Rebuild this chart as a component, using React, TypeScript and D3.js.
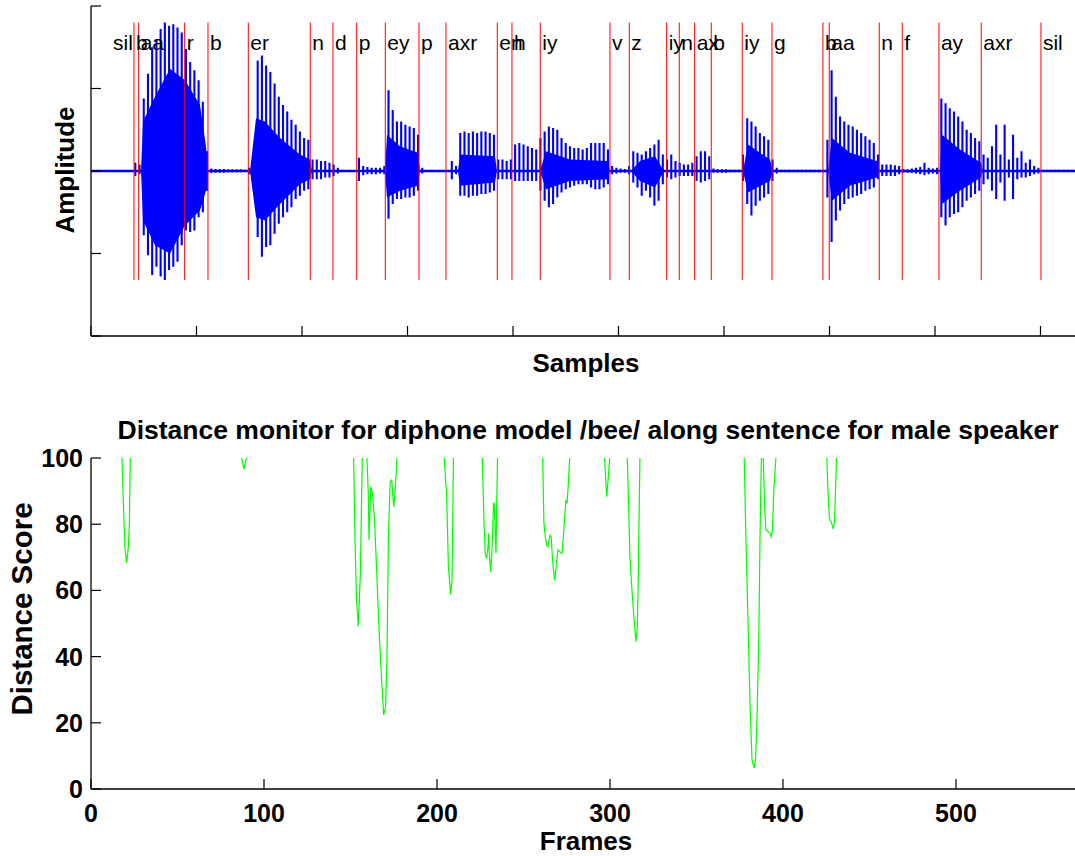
import React from "react";
import * as d3 from "d3";

const W = 1075;
const H = 856;

// ---------- Top plot: waveform (samples) ----------
const SAMPLE_MAX = 46635;
const SAMPLE_TICKS = [0, 5000, 10000, 15000, 20000, 25000, 30000, 35000, 40000, 45000];
const AMP_TICKS = [-1, -0.5, 0, 0.5, 1];
const BIN = 200; // samples per envelope bin

// peak (spike) envelope per bin
const peakHi = [
  0.005, 0.005, 0.005, 0.005, 0.005, 0.005, 0.005, 0.005, 0.005, 0.005, // 0
  0.05, 0.04, 0.44, 0.59, 0.75, 0.8, 0.86, 0.9, 0.88, 0.89, // 10
  0.87, 0.84, 0.74, 0.66, 0.61, 0.55, 0.42, 0.12, 0.015, 0.012, // 20
  0.012, 0.012, 0.01, 0.01, 0.01, 0.01, 0.008, 0.02, 0.07, 0.67, // 30
  0.7, 0.64, 0.6, 0.53, 0.45, 0.4, 0.36, 0.31, 0.28, 0.24, // 40
  0.2, 0.19, 0.07, 0.07, 0.06, 0.06, 0.05, 0.04, 0.02, 0.008, // 50
  0.005, 0.005, 0.005, 0.08, 0.03, 0.025, 0.02, 0.02, 0.02, 0.03, // 60
  0.49, 0.37, 0.3, 0.3, 0.28, 0.27, 0.26, 0.22, 0.02, 0.006, // 70
  0.006, 0.006, 0.006, 0.006, 0.006, 0.06, 0.03, 0.23, 0.24, 0.23, // 80
  0.24, 0.23, 0.24, 0.24, 0.23, 0.22, 0.07, 0.07, 0.06, 0.07, // 90
  0.16, 0.17, 0.16, 0.15, 0.14, 0.13, 0.2, 0.24, 0.27, 0.26, // 100
  0.25, 0.2, 0.17, 0.15, 0.14, 0.14, 0.13, 0.14, 0.17, 0.17, // 110
  0.17, 0.17, 0.13, 0.03, 0.02, 0.015, 0.012, 0.03, 0.12, 0.11, // 120
  0.1, 0.12, 0.14, 0.16, 0.19, 0.1, 0.07, 0.1, 0.06, 0.05, // 130
  0.04, 0.04, 0.05, 0.09, 0.12, 0.12, 0.09, 0.015, 0.01, 0.01, // 140
  0.01, 0.008, 0.008, 0.008, 0.1, 0.32, 0.3, 0.27, 0.23, 0.21, // 150
  0.19, 0.07, 0.02, 0.008, 0.008, 0.008, 0.008, 0.008, 0.008, 0.008, // 160
  0.008, 0.008, 0.008, 0.008, 0.19, 0.61, 0.45, 0.33, 0.3, 0.28, // 170
  0.27, 0.25, 0.23, 0.21, 0.19, 0.17, 0.1, 0.04, 0.04, 0.04, // 180
  0.035, 0.03, 0.012, 0.01, 0.015, 0.02, 0.025, 0.05, 0.02, 0.015, // 190
  0.02, 0.44, 0.41, 0.38, 0.36, 0.33, 0.3, 0.25, 0.23, 0.2, // 200
  0.18, 0.1, 0.08, 0.15, 0.28, 0.1, 0.28, 0.07, 0.22, 0.08, // 210
  0.12, 0.05, 0.07, 0.03, 0.02, 0.008, 0.008, 0.008, 0.008, 0.008, // 220
  0.008, 0.008, 0.008, // 230
];
const peakLo = [
  -0.005, -0.005, -0.005, -0.005, -0.005, -0.005, -0.005, -0.005, -0.005, -0.005, // 0
  -0.03, -0.02, -0.39, -0.51, -0.63, -0.58, -0.64, -0.66, -0.6, -0.58, // 10
  -0.55, -0.45, -0.36, -0.37, -0.36, -0.28, -0.25, -0.12, -0.012, -0.01, // 20
  -0.01, -0.01, -0.008, -0.008, -0.008, -0.008, -0.006, -0.02, -0.05, -0.4, // 30
  -0.52, -0.46, -0.45, -0.38, -0.32, -0.28, -0.25, -0.22, -0.17, -0.15, // 40
  -0.12, -0.11, -0.05, -0.05, -0.05, -0.04, -0.04, -0.03, -0.015, -0.006, // 50
  -0.005, -0.005, -0.005, -0.06, -0.025, -0.02, -0.02, -0.02, -0.015, -0.02, // 60
  -0.29, -0.2, -0.17, -0.17, -0.16, -0.16, -0.15, -0.12, -0.015, -0.005, // 70
  -0.005, -0.005, -0.005, -0.005, -0.005, -0.05, -0.02, -0.15, -0.15, -0.16, // 80
  -0.15, -0.15, -0.14, -0.14, -0.13, -0.12, -0.05, -0.05, -0.05, -0.05, // 90
  -0.06, -0.06, -0.06, -0.06, -0.06, -0.06, -0.12, -0.18, -0.22, -0.2, // 100
  -0.16, -0.13, -0.11, -0.1, -0.09, -0.08, -0.08, -0.08, -0.1, -0.11, // 110
  -0.11, -0.1, -0.08, -0.02, -0.015, -0.01, -0.01, -0.02, -0.07, -0.1, // 120
  -0.15, -0.12, -0.16, -0.21, -0.18, -0.08, -0.04, -0.05, -0.04, -0.03, // 130
  -0.03, -0.03, -0.03, -0.06, -0.07, -0.06, -0.05, -0.01, -0.01, -0.01, // 140
  -0.01, -0.008, -0.008, -0.008, -0.06, -0.2, -0.27, -0.21, -0.18, -0.16, // 150
  -0.14, -0.06, -0.015, -0.008, -0.008, -0.008, -0.008, -0.008, -0.008, -0.008, // 160
  -0.008, -0.008, -0.008, -0.008, -0.16, -0.43, -0.3, -0.24, -0.2, -0.17, // 170
  -0.16, -0.15, -0.14, -0.12, -0.11, -0.1, -0.05, -0.03, -0.03, -0.03, // 180
  -0.03, -0.02, -0.01, -0.01, -0.012, -0.015, -0.02, -0.025, -0.02, -0.015, // 190
  -0.02, -0.28, -0.33, -0.28, -0.26, -0.25, -0.22, -0.18, -0.16, -0.14, // 200
  -0.12, -0.08, -0.05, -0.12, -0.17, -0.07, -0.18, -0.04, -0.17, -0.05, // 210
  -0.04, -0.04, -0.03, -0.02, -0.015, -0.006, -0.006, -0.006, -0.006, -0.006, // 220
  -0.006, -0.006, -0.006, // 230
];

// dense core of the voiced segments (sample, upper, lower)
const coreSample = [
  2370, 2464, 3033, 3744, 4455, 5165, 5450, 5545,
  7535, 7820, 8246, 8957, 9905, 10378, 10473,
  13933, 14027, 14643, 15496, 15592,
  17392, 17487, 19146, 19240,
  21278, 21563, 22700, 24501, 24595,
  25591, 26017, 26728, 27155,
  30898, 31135, 32178, 32320,
  34926, 35116, 35969, 37248, 37390,
  40234, 40329, 41182, 42177, 42272,
];
const coreHi = [
  0, 0.3, 0.45, 0.62, 0.55, 0.4, 0.15, 0,
  0, 0.32, 0.3, 0.2, 0.1, 0.07, 0,
  0, 0.22, 0.15, 0.11, 0,
  0, 0.1, 0.09, 0,
  0, 0.12, 0.07, 0.06, 0,
  0, 0.06, 0.09, 0,
  0, 0.16, 0.07, 0,
  0, 0.2, 0.11, 0.06, 0,
  0, 0.22, 0.13, 0.05, 0,
];
const coreLo = [
  0, -0.3, -0.45, -0.5, -0.33, -0.24, -0.12, 0,
  0, -0.28, -0.3, -0.2, -0.08, -0.05, 0,
  0, -0.16, -0.12, -0.09, 0,
  0, -0.09, -0.07, 0,
  0, -0.11, -0.06, -0.05, 0,
  0, -0.06, -0.1, 0,
  0, -0.13, -0.06, 0,
  0, -0.18, -0.09, -0.04, 0,
  0, -0.2, -0.12, -0.04, 0,
];

// phoneme boundaries (samples) and labels
const boundaries = [
  2038, 2260, 4440, 5545, 7455, 10393, 11468, 12592, 13947, 15544,
  16823, 19255, 19951, 21293, 24595, 25510, 27282, 27880, 28609, 29396,
  30865, 32273, 34689, 34988, 37358, 38448, 40187, 42191, 45021,
];
const phonemes = [
  "sil", "b", "aa", "r", "b", "er", "n", "d", "p", "ey",
  "p", "axr", "en", "h", "iy", "v", "z", "iy", "n", "ax",
  "b", "iy", "g", "b", "aa", "n", "f", "ay", "axr", "sil",
];
const firstStart = 950;

// ---------- Bottom plot: distance score ----------
const FRAME_MAX = 568.8;
const FRAME_TICKS = [0, 100, 200, 300, 400, 500];
const SCORE_TICKS = [0, 20, 40, 60, 80, 100];

const dipFrames = [
  [17.9, 19.1, 19.7, 20.6, 21.6, 22.2, 22.7],
  [87.1, 88.4, 89.8],
  [151.8, 152.6, 153.5, 154.5, 155.7, 156.8],
  [159.5, 160.3, 160.7, 161.7, 162.7, 163.8, 165.2, 166.5, 168.0, 169.2, 170.3, 171.1, 171.9, 172.9, 173.8, 175.0, 175.7, 176.9],
  [204.2, 205.6, 206.6, 207.9, 208.7, 209.1, 209.5],
  [226.2, 227.2, 227.9, 228.7, 229.5, 229.9, 230.2, 231.0, 231.8, 232.7, 233.1, 234.1, 234.5, 235.0],
  [261.1, 261.8, 262.6, 263.4, 264.1, 265.3, 266.0, 266.8, 268.0, 269.1, 269.9, 271.0, 272.2, 272.9, 273.7, 274.5, 275.2, 275.8, 276.7],
  [296.9, 298.1, 299.2, 299.8],
  [310.0, 310.8, 311.5, 312.7, 313.8, 315.0, 315.8, 316.4, 316.9, 317.3],
  [377.6, 378.6, 379.8, 381.0, 382.1, 383.3, 384.1, 384.8, 386.0, 386.7, 387.5],
  [388.6, 389.4, 390.1, 391.3, 392.4, 393.2, 393.9, 394.7, 395.9],
  [425.3, 426.0, 426.8, 427.9, 429.1, 429.8, 430.4, 430.9],
];
const dipScores = [
  [100, 80.3, 72.2, 68.4, 73.2, 80.3, 100],
  [100, 96.6, 100],
  [100, 75.2, 57.1, 49.2, 65.1, 100],
  [100, 89.3, 75.2, 91.3, 89.3, 82.3, 65.1, 48.0, 32.9, 22.4, 24.9, 40.0, 75.2, 92.8, 93.3, 85.3, 89.3, 100],
  [100, 88.3, 67.1, 58.8, 63.1, 80.3, 100],
  [100, 80.3, 71.2, 69.7, 73.2, 77.2, 71.2, 65.6, 72.2, 86.3, 86.3, 71.2, 85.3, 100],
  [100, 80.3, 76.2, 73.7, 73.2, 76.7, 76.2, 69.1, 63.1, 68.1, 72.2, 71.7, 71.2, 75.2, 81.2, 87.3, 86.3, 91.3, 100],
  [100, 88.3, 95.3, 100],
  [100, 85.3, 70.2, 60.1, 52.0, 44.5, 49.0, 65.1, 85.3, 100],
  [100, 75.2, 50.0, 24.8, 8.7, 6.4, 8.7, 17.7, 45.0, 75.2, 100],
  [100, 85.3, 78.3, 77.8, 77.3, 76.2, 78.3, 90.3, 100],
  [100, 90.3, 81.7, 80.7, 78.5, 81.2, 90.3, 100],
];

const FONT = "'Liberation Sans', Arial, Helvetica, sans-serif";

export default function App() {
  // scales
  const xS = d3.scaleLinear().domain([0, SAMPLE_MAX]).range([91, 1075]);
  const yA = d3.scaleLinear().domain([-1, 1]).range([336, 6]);
  const xF = d3.scaleLinear().domain([0, FRAME_MAX]).range([91, 1075]);
  const yD = d3.scaleLinear().domain([0, 100]).range([789, 458]);

  // waveform spikes
  let spikes = "";
  peakHi.forEach((hi, i) => {
    const x = xS((i + 0.5) * BIN);
    spikes += `M${x.toFixed(2)},${yA(hi).toFixed(2)}V${yA(peakLo[i]).toFixed(2)}`;
  });
  const coreData = coreSample.map((s, i) => ({ s, hi: coreHi[i], lo: coreLo[i] }));
  const coreArea = d3
    .area<{ s: number; hi: number; lo: number }>()
    .x((d) => xS(d.s))
    .y0((d) => yA(d.lo))
    .y1((d) => yA(d.hi))(coreData);

  const sigMax = d3.max(peakHi) as number;
  const sigMin = d3.min(peakLo) as number;
  const starts = [firstStart, ...boundaries];

  const line = d3
    .line<[number, number]>()
    .x((d) => xF(d[0]))
    .y((d) => yD(d[1]));

  const axisColor = "#000";
  const tickLen = 10;

  return (
    <svg
      width={W}
      height={H}
      style={{ position: "absolute", left: 0, top: 0, background: "#fff" }}
      fontFamily={FONT}
    >
      <rect x={0} y={0} width={W} height={H} fill="#fff" />

      {/* ---------------- Top plot ---------------- */}
      <line x1={xS(0)} x2={xS(SAMPLE_MAX)} y1={yA(0)} y2={yA(0)} stroke="#0000ff" strokeWidth={2.4} />
      <path d={coreArea || ""} fill="#0000ff" />
      <path d={spikes} stroke="#0000ff" strokeWidth={2.1} fill="none" />

      {boundaries.map((b, i) => (
        <line
          key={"b" + i}
          x1={xS(b)}
          x2={xS(b)}
          y1={yA(sigMax)}
          y2={yA(sigMin)}
          stroke="#ff0000"
          strokeWidth={1}
        />
      ))}
      {phonemes.map((p, i) => (
        <text key={"p" + i} x={xS(starts[i]) + 2} y={50} fontSize={21} fill="#000">
          {p}
        </text>
      ))}

      {/* axes */}
      <line x1={xS(0)} x2={xS(0)} y1={yA(1)} y2={yA(-1)} stroke={axisColor} strokeWidth={1.3} />
      <line x1={xS(0)} x2={xS(SAMPLE_MAX)} y1={yA(-1)} y2={yA(-1)} stroke={axisColor} strokeWidth={1.3} />
      {AMP_TICKS.map((t) => (
        <line key={"at" + t} x1={xS(0)} x2={xS(0) + tickLen} y1={yA(t)} y2={yA(t)} stroke={axisColor} strokeWidth={1.2} />
      ))}
      {SAMPLE_TICKS.map((t) => (
        <line key={"st" + t} x1={xS(t)} x2={xS(t)} y1={yA(-1)} y2={yA(-1) - tickLen} stroke={axisColor} strokeWidth={1.2} />
      ))}
      <text x={586} y={372} fontSize={26} fontWeight="bold" textAnchor="middle">
        Samples
      </text>
      <text transform="translate(74,170) rotate(-90)" fontSize={26} fontWeight="bold" textAnchor="middle">
        Amplitude
      </text>

      {/* ---------------- Bottom plot ---------------- */}
      <text x={588} y={439} fontSize={26.5} fontWeight="bold" textAnchor="middle">
        Distance monitor for diphone model /bee/ along sentence for male speaker
      </text>
      {dipFrames.map((fr, k) => (
        <path
          key={"d" + k}
          d={line(fr.map((f, j) => [f, dipScores[k][j]] as [number, number])) || ""}
          stroke="#00ff00"
          strokeWidth={1.2}
          fill="none"
        />
      ))}
      <line x1={xF(0)} x2={xF(0)} y1={yD(100)} y2={yD(0)} stroke={axisColor} strokeWidth={1.3} />
      <line x1={xF(0)} x2={xF(FRAME_MAX)} y1={yD(0)} y2={yD(0)} stroke={axisColor} strokeWidth={1.3} />
      {SCORE_TICKS.map((t) => (
        <g key={"sc" + t}>
          <line x1={xF(0)} x2={xF(0) + tickLen} y1={yD(t)} y2={yD(t)} stroke={axisColor} strokeWidth={1.2} />
          <text x={83} y={yD(t)} dy="0.36em" fontSize={25} fontWeight="bold" textAnchor="end">
            {t}
          </text>
        </g>
      ))}
      {FRAME_TICKS.map((t) => (
        <g key={"fr" + t}>
          <line x1={xF(t)} x2={xF(t)} y1={yD(0)} y2={yD(0) - tickLen} stroke={axisColor} strokeWidth={1.2} />
          <text x={xF(t)} y={822} fontSize={25} fontWeight="bold" textAnchor="middle">
            {t}
          </text>
        </g>
      ))}
      <text x={586} y={850} fontSize={26} fontWeight="bold" textAnchor="middle">
        Frames
      </text>
      <text transform="translate(32,609) rotate(-90)" fontSize={29.5} fontWeight="bold" textAnchor="middle">
        Distance Score
      </text>
    </svg>
  );
}
